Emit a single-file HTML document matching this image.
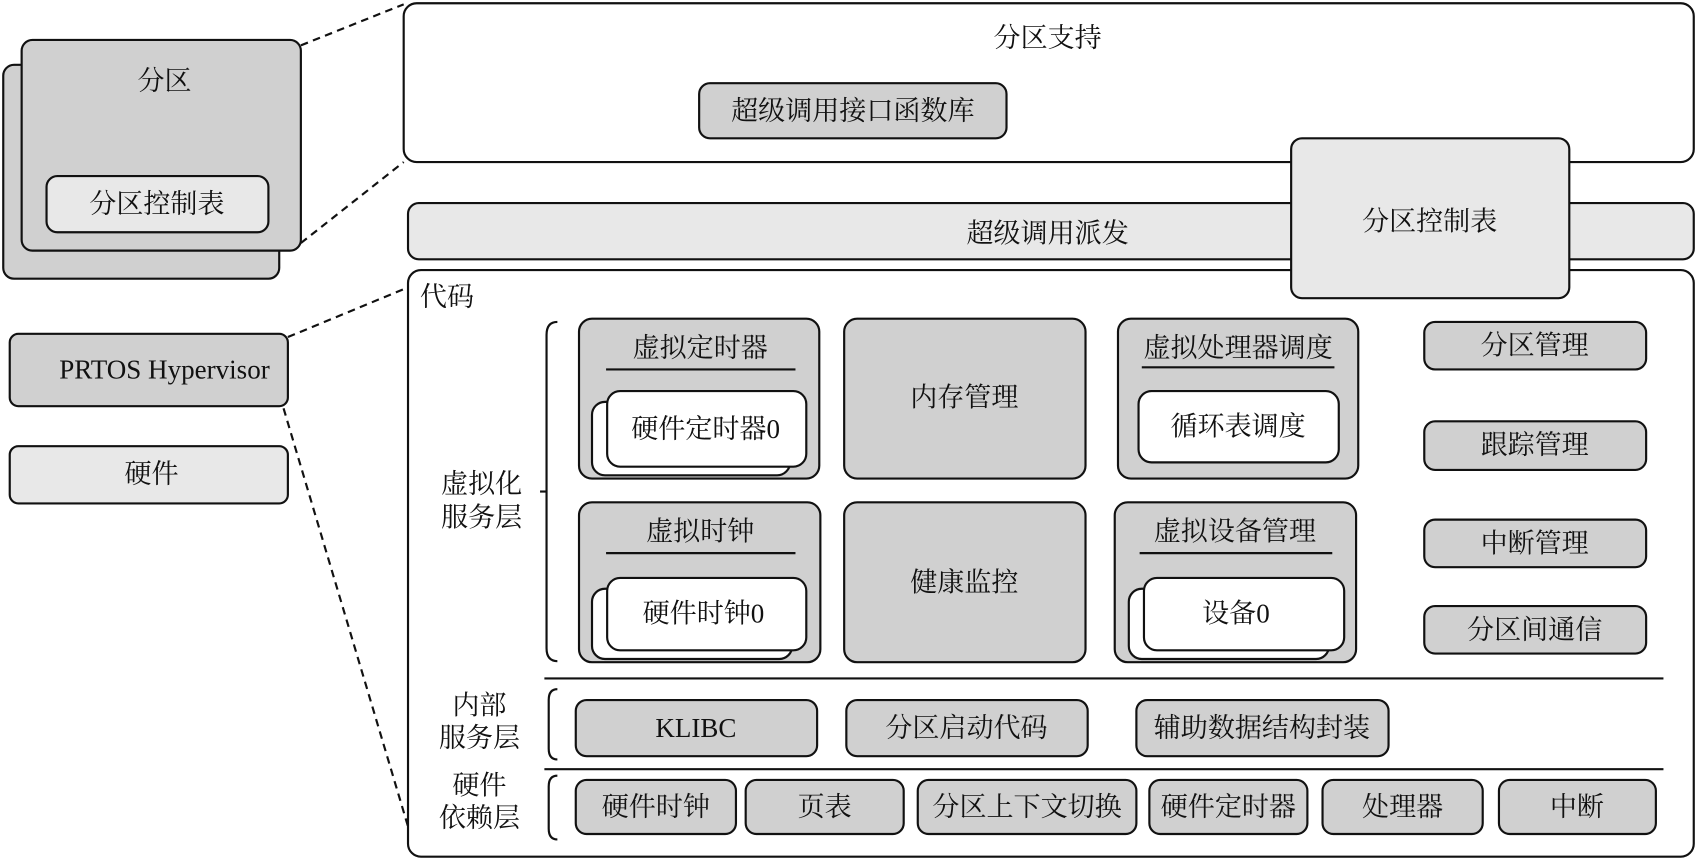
<!DOCTYPE html>
<html><head><meta charset="utf-8"><style>
html,body{margin:0;padding:0;background:#fff;}
svg{display:block;}
text{font-family:"Liberation Serif","Noto Serif CJK SC",serif;font-size:25px;fill:#111;text-anchor:middle;dominant-baseline:central;}
.g{fill:#d0d0d0;stroke:#111;stroke-width:2;}
.l{fill:#e8e8e8;stroke:#111;stroke-width:2;}
.w{fill:#fff;stroke:#111;stroke-width:2;}
.d{stroke:#111;stroke-width:2;stroke-dasharray:7,5;fill:none;}
.n{stroke:#111;stroke-width:2;fill:none;}
</style></head><body>
<svg width="1697" height="861" viewBox="0 0 1568 797" preserveAspectRatio="none">
<rect class="g" x="3" y="60" width="255" height="198" rx="10"/>
<rect class="g" x="20" y="37" width="258" height="195" rx="10"/>
<text x="152" y="75">分区</text>
<rect class="l" x="43" y="163" width="205" height="52" rx="10"/>
<text x="145" y="189">分区控制表</text>
<line class="d" x1="278" y1="42" x2="373" y2="4"/>
<line class="d" x1="278" y1="225" x2="373" y2="150"/>
<rect class="w" x="373" y="3" width="1192" height="147" rx="12"/>
<text x="968" y="35">分区支持</text>
<rect class="g" x="646" y="77" width="284" height="51" rx="10"/>
<text x="788" y="103">超级调用接口函数库</text>
<rect class="l" x="377" y="188" width="1188" height="52" rx="10"/>
<text x="968" y="216">超级调用派发</text>
<rect class="w" x="377" y="250" width="1188" height="543" rx="12"/>
<rect class="l" x="1193" y="128" width="257" height="148" rx="10"/>
<text x="1321" y="205">分区控制表</text>
<text x="413" y="275">代码</text>
<rect class="g" x="9" y="309" width="257" height="67" rx="8"/>
<text x="152" y="342">PRTOS Hypervisor</text>
<rect class="l" x="9" y="413" width="257" height="53" rx="8"/>
<text x="140" y="439">硬件</text>
<line class="d" x1="266" y1="312" x2="377" y2="266"/>
<line class="d" x1="262" y1="378" x2="377" y2="765"/>
<path class="n" d="M515,298 Q505,298 505,310 L505,600 Q505,612 515,612"/>
<path class="n" d="M499,455 L505,455"/>
<text x="445" y="448">虚拟化</text><text x="445" y="479">服务层</text>
<path class="n" d="M515,638 Q507,638 507,648 L507,693 Q507,703 515,703"/>
<text x="443" y="653">内部</text><text x="443" y="683">服务层</text>
<path class="n" d="M515,718 Q507,718 507,728 L507,767 Q507,777 515,777"/>
<text x="443" y="727">硬件</text><text x="443" y="757">依赖层</text>
<rect class="g" x="535" y="295" width="222" height="148" rx="12"/>
<text x="647" y="322">虚拟定时器</text>
<line class="n" x1="560" y1="342" x2="735" y2="342"/>
<rect class="w" x="547" y="372" width="183" height="68" rx="12"/>
<rect class="w" x="561" y="362" width="184" height="70" rx="12"/>
<text x="652" y="397">硬件定时器0</text>
<rect class="g" x="780" y="295" width="223" height="148" rx="12"/>
<text x="891" y="368">内存管理</text>
<rect class="g" x="1033" y="295" width="222" height="148" rx="12"/>
<text x="1144" y="322">虚拟处理器调度</text>
<line class="n" x1="1055" y1="340" x2="1233" y2="340"/>
<rect class="w" x="1052" y="362" width="185" height="66" rx="12"/>
<text x="1144" y="395">循环表调度</text>
<rect class="g" x="535" y="465" width="223" height="148" rx="12"/>
<text x="647" y="492">虚拟时钟</text>
<line class="n" x1="560" y1="512" x2="735" y2="512"/>
<rect class="w" x="547" y="545" width="185" height="65" rx="12"/>
<rect class="w" x="561" y="535" width="184" height="67" rx="12"/>
<text x="650" y="568">硬件时钟0</text>
<rect class="g" x="780" y="465" width="223" height="148" rx="12"/>
<text x="891" y="539">健康监控</text>
<rect class="g" x="1030" y="465" width="223" height="148" rx="12"/>
<text x="1141" y="492">虚拟设备管理</text>
<line class="n" x1="1053" y1="512" x2="1231" y2="512"/>
<rect class="w" x="1043" y="545" width="185" height="65" rx="12"/>
<rect class="w" x="1057" y="535" width="185" height="67" rx="12"/>
<text x="1142" y="568">设备0</text>
<rect class="g" x="1316" y="298" width="205" height="44" rx="10"/><text x="1418" y="320">分区管理</text>
<rect class="g" x="1316" y="390" width="205" height="45" rx="10"/><text x="1418" y="412">跟踪管理</text>
<rect class="g" x="1316" y="481" width="205" height="44" rx="10"/><text x="1418" y="503">中断管理</text>
<rect class="g" x="1316" y="561" width="205" height="44" rx="10"/><text x="1418" y="583">分区间通信</text>
<line class="n" x1="503" y1="628" x2="1537" y2="628"/>
<rect class="g" x="532" y="648" width="223" height="52" rx="10"/><text x="643" y="674">KLIBC</text>
<rect class="g" x="782" y="648" width="223" height="52" rx="10"/><text x="893" y="674">分区启动代码</text>
<rect class="g" x="1050" y="648" width="233" height="52" rx="10"/><text x="1166" y="674">辅助数据结构封装</text>
<line class="n" x1="503" y1="712" x2="1537" y2="712"/>
<rect class="g" x="532" y="722" width="148" height="50" rx="10"/><text x="606" y="747">硬件时钟</text>
<rect class="g" x="689" y="722" width="146" height="50" rx="10"/><text x="762" y="747">页表</text>
<rect class="g" x="848" y="722" width="202" height="50" rx="10"/><text x="949" y="747">分区上下文切换</text>
<rect class="g" x="1062" y="722" width="146" height="50" rx="10"/><text x="1135" y="747">硬件定时器</text>
<rect class="g" x="1222" y="722" width="148" height="50" rx="10"/><text x="1296" y="747">处理器</text>
<rect class="g" x="1385" y="722" width="145" height="50" rx="10"/><text x="1457" y="747">中断</text>
</svg>
</body></html>
